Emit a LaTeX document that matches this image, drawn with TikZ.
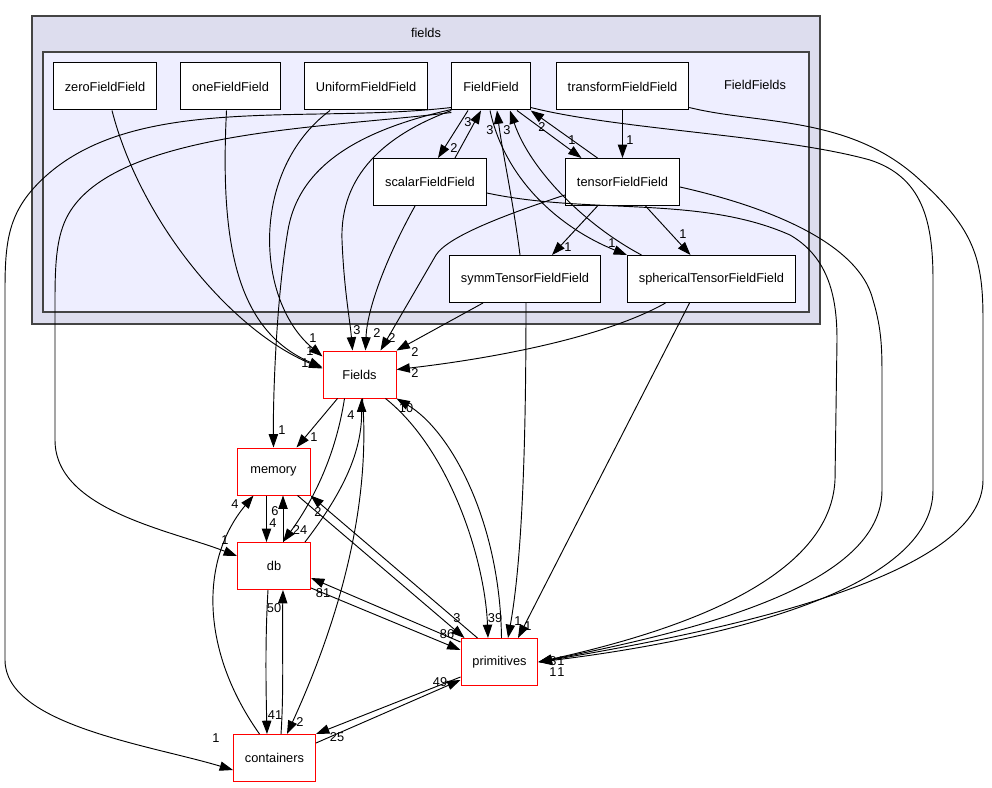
\documentclass[tikz,border=0pt]{standalone}
\usepackage{fontspec}
\setmainfont{Liberation Sans}
\usetikzlibrary{arrows.meta,calc}

\definecolor{outerfill}{HTML}{DDDDEE}
\definecolor{innerfill}{HTML}{EEEEFF}
\definecolor{clusterline}{HTML}{444444}

\tikzset{
  dirbox/.style={draw=black, fill=white, line width=0.75pt, minimum height=35.25pt,
    inner xsep=8.6pt, font=\fontsize{9.6}{11}\selectfont},
  pkgbox/.style={dirbox, draw=red, minimum width=54.75pt},
  dep/.style={line width=0.7pt, -{Triangle[length=10pt,width=7pt]}},
  lbl/.style={font=\fontsize{9.6}{11}\selectfont, inner sep=0pt},
  cluster/.style={draw=clusterline, line width=1.1pt},
}

\begin{document}
\begin{tikzpicture}[x=0.75pt, y=-0.75pt]
		\useasboundingbox (0,0) rectangle (992,788);

		% Clusters
		\draw[cluster, fill=outerfill] (32,16) rectangle (820,324);
		\node[lbl] (fieldsT) at (426,33) {fields};
		\draw[cluster, fill=innerfill] (43,52) rectangle (809,312);
		\node[lbl] (FieldFieldsT) at (755,85) {FieldFields};

		% Directories inside FieldFields
		\node[dirbox] (zFF) at (105,86.5) {zeroFieldField};
		\node[dirbox] (oFF) at (230.5,86.5) {oneFieldField};
		\node[dirbox] (UFF) at (366,86.5) {UniformFieldField};
		\node[dirbox] (FF) at (491,86.5) {FieldField};
		\node[dirbox] (tFF) at (622.5,86.5) {transformFieldField};
		\node[dirbox] (sFF) at (430,182) {scalarFieldField};
		\node[dirbox] (teFF) at (622.5,182) {tensorFieldField};
		\node[dirbox] (syFF) at (525,279) {symmTensorFieldField};
		\node[dirbox] (spFF) at (711.5,279) {sphericalTensorFieldField};

		% Other directories
		\node[pkgbox] (Fl) at (359.5,374.5) {Fields};
		\node[pkgbox] (mem) at (273.5,471.5) {memory};
		\node[pkgbox] (db) at (274,566) {db};
		\node[pkgbox] (prim) at (499.5,662) {primitives};
		\node[pkgbox] (cont) at (274.5,758) {containers};

		% Inside FieldFields
		\draw[dep] ($(FF.south)+(-23,0)$) -- ($(sFF.north)+(8,0)$) node[lbl] (l1) at (454,148) {2};
		\draw[dep] ($(sFF.north)+(25,0)$) -- ($(FF.south)+(-10,0)$) node[lbl] (l2) at (468,122) {3};
		\draw[dep] ($(FF.south)+(26,0)$) -- ($(teFF.north)+(-41,0)$) node[lbl] (l3) at (572,140) {1};
		\draw[dep] ($(teFF.north)+(-25,0)$) -- (FF.south east) node[lbl] (l4) at (542,127) {2};
		\draw[dep] (tFF.south) -- (teFF.north) node[lbl] (l5) at (630,140) {1};
		\draw[dep] ($(teFF.south)+(-25,0)$) -- ($(syFF.north)+(27,0)$) node[lbl] (l6) at (568,247) {1};
		\draw[dep] ($(teFF.south)+(23,0)$) -- ($(spFF.north)+(-21,0)$) node[lbl] (l7) at (683,234) {1};
		\draw[dep] ($(FF.south)+(-1,0)$) .. controls (505,180) and (560,228) .. (spFF.north west) node[lbl] (l8) at (612,243) {1};
		\draw[dep] ($(syFF.north)+(-5,0)$) .. controls (513,200) and (502,150) .. ($(FF.south)+(6,0)$) node[lbl] (l9) at (490,130) {3};
		\draw[dep] ($(spFF.north)+(-70,0)$) .. controls (585,225) and (530,170) .. ($(FF.south)+(19,0)$) node[lbl] (l10) at (507,130) {3};

		% FieldField to the outside
		\draw[dep] (FF.south west) .. controls (385,135) and (340,175) .. (342,240) .. controls (344,290) and (350,320) .. ($(Fl.north)+(-7,0)$) node[lbl] (l11) at (357,330) {3};
		\draw[dep] ($(FF.south west)+(0,-1)$) .. controls (370,128) and (300,160) .. (288,230) .. controls (276,300) and (273,400) .. (mem.north) node[lbl] (l12) at (282,430) {1};
		\draw[dep] ($(FF.west)+(0,26)$) .. controls (330,128) and (115,130) .. (68,215) .. controls (57,235) and (55,260) .. (55,300) -- (55,440) .. controls (55,510) and (170,530) .. ($(db.west)+(0,-10)$) node[lbl] (l13) at (225,540) {1};
		\draw[dep] ($(FF.west)+(0,21)$) .. controls (300,125) and (120,90) .. (32,190) .. controls (8,218) and (5,245) .. (5,290) -- (5,660) .. controls (5,725) and (150,745) .. ($(cont.west)+(0,12)$) node[lbl] (l14) at (216,738) {1};

		% Long lines into primitives
		\draw[dep] ($(FF.east)+(0,21)$) .. controls (620,130) and (780,135) .. (870,160) .. controls (922,177) and (933,220) .. (933,280) -- (933,490) .. controls (933,590) and (720,640) .. (prim.east) node[lbl] (l15) at (553,661) {3};
		\draw[dep] ($(tFF.east)+(0,21)$) .. controls (760,125) and (850,115) .. (920,180) .. controls (975,230) and (983,260) .. (983,320) -- (983,480) .. controls (983,570) and (760,625) .. (prim.east) node[lbl] (l16) at (561,661) {1};
		\draw[dep] ($(teFF.east)+(0,5)$) .. controls (760,205) and (858,240) .. (873,300) .. controls (882,330) and (882,350) .. (882,380) -- (882,490) .. controls (882,585) and (700,630) .. (prim.east) node[lbl] (l17) at (553,672) {1};
		\draw[dep] ($(sFF.east)+(0,11)$) .. controls (590,215) and (700,195) .. (790,235) .. controls (830,258) and (837,300) .. (837,340) -- (835,480) .. controls (830,585) and (660,635) .. (prim.east) node[lbl] (l18) at (561,672) {1};

		% Into Fields
		\draw[dep] ($(zFF.south)+(7,0)$) .. controls (140,220) and (230,330) .. ($(Fl.west)+(0,-6)$) node[lbl] (l19) at (305,363) {1};
		\draw[dep] ($(oFF.south)+(-4,0)$) .. controls (220,240) and (235,330) .. ($(Fl.west)+(0,-7)$) node[lbl] (l20) at (310,351) {1};
		\draw[dep] ($(UFF.south)+(-36,0)$) .. controls (250,170) and (255,300) .. ($(Fl.west)+(0,-18)$) node[lbl] (l21) at (313,338) {1};
		\draw[dep] ($(sFF.south)+(-15,0)$) .. controls (385,260) and (367,310) .. ($(Fl.north)+(6,0)$) node[lbl] (l22) at (377,333) {2};
		\draw[dep] ($(teFF.west)+(0,13)$) .. controls (495,218) and (447,238) .. (436,255) -- ($(Fl.north)+(21,0)$) node[lbl] (l23) at (392,338) {2};
		\draw[dep] ($(syFF.south)+(-42,0)$) -- (Fl.north east) node[lbl] (l24) at (415,352) {2};
		\draw[dep] ($(spFF.south)+(-46,0)$) .. controls (600,340) and (480,360) .. ($(Fl.east)+(0,-5)$) node[lbl] (l25) at (415,373) {2};

		% Into primitives from above
		\draw[dep] ($(syFF.south)+(1,0)$) .. controls (526,450) and (522,560) .. ($(prim.north)+(8.5,0)$) node[lbl] (l26) at (518,621) {1};
		\draw[dep] ($(spFF.south)+(-22,0)$) -- ($(prim.north)+(18.5,0)$) node[lbl] (l27) at (528,626) {1};
		\draw[dep] ($(Fl.south)+(26,0)$) .. controls (450,450) and (485,560) .. ($(prim.north)+(-11.5,0)$) node[lbl] (l28) at (495,618) {39};
		\draw[dep] ($(prim.north)+(2,0)$) .. controls (500,520) and (450,430) .. (Fl.south east) node[lbl] (l29) at (406,408) {10};

		% Fields, memory, db, containers
		\draw[dep] ($(Fl.south)+(-22,0)$) -- ($(mem.north east)+(-14,0)$) node[lbl] (l30) at (314,437) {1};
		\draw[dep] ($(Fl.south)+(-15,0)$) .. controls (335,460) and (310,505) .. ($(db.north)+(9,0)$) node[lbl] (l31) at (300,530) {24};
		\draw[dep] ($(db.north east)+(-6,0)$) .. controls (345,490) and (362,450) .. ($(Fl.south)+(2,0)$) node[lbl] (l32) at (351,415) {4};
		\draw[dep] ($(mem.south)+(-7,0)$) -- ($(db.north)+(-7.5,0)$) node[lbl] (l33) at (273,523) {4};
		\draw[dep] ($(db.north)+(9,0)$) -- ($(mem.south)+(9.5,0)$) node[lbl] (l34) at (275,511) {6};
		\draw[dep] ($(cont.north)+(-15,0)$) .. controls (200,650) and (200,560) .. ($(mem.south)+(-20,0)$) node[lbl] (l35) at (235,504) {4};
		\draw[dep] ($(mem.south east)+(-13,0)$) -- ($(prim.north west)+(4,0)$) node[lbl] (l36) at (457,618) {3};
		\draw[dep] ($(prim.north west)+(17,0)$) -- (mem.south east) node[lbl] (l37) at (318,512) {2};
		\draw[dep] ($(db.east)+(0,22)$) -- ($(prim.west)+(0,-12)$) node[lbl] (l38) at (447,634) {86};
		\draw[dep] ($(prim.west)+(0,-20)$) -- ($(db.east)+(0,12)$) node[lbl] (l39) at (323,593) {81};
		\draw[dep] ($(db.south)+(-6,0)$) .. controls (265,640) and (266,690) .. ($(cont.north)+(-7.5,0)$) node[lbl] (l40) at (275,715) {41};
		\draw[dep] ($(cont.north)+(6.5,0)$) .. controls (284,690) and (282,640) .. ($(db.south)+(9,0)$) node[lbl] (l41) at (274,608) {50};
		\draw[dep] ($(Fl.south)+(3,0)$) .. controls (372,520) and (330,640) .. ($(cont.north)+(12.5,0)$) node[lbl] (l42) at (300,722) {2};
		\draw[dep] ($(prim.west)+(0,15)$) -- (cont.north east) node[lbl] (l43) at (337,737) {25};
		\draw[dep] ($(cont.east)+(0,-15)$) -- ($(prim.west)+(0,18)$) node[lbl] (l44) at (440,682) {49};

	\end{tikzpicture}
\end{document}
